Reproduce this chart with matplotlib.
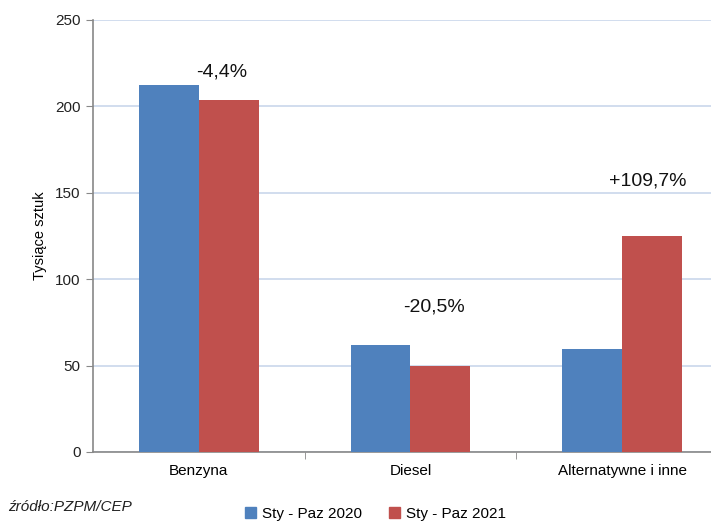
import matplotlib.pyplot as plt
import numpy as np
from matplotlib.patches import Patch

plt.rcParams['font.family'] = ['Liberation Sans', 'DejaVu Sans']

categories = ["Benzyna", "Diesel", "Alternatywne i inne"]
s2020 = [212.5, 62, 59.5]
s2021 = [203.5, 49.5, 125]
changes = ["-4,4%", "-20,5%", "+109,7%"]
series_names = ["Sty - Paz 2020", "Sty - Paz 2021"]
blue = "#4f81bd"
red = "#c0504d"

fig = plt.figure(figsize=(7.11, 5.23), dpi=100)
ax = fig.add_axes([0.1308, 0.1358, 0.893, 0.826])

x = np.arange(len(categories))
w = 0.283
ax.bar(x - w/2, s2020, w, color=blue, zorder=3)
ax.bar(x + w/2, s2021, w, color=red, zorder=3)

# percentage change labels above each group
label_x = [0.11, 1.11, 2.12]
label_y = [220, 84, 157]
for lx, txt, ly in zip(label_x, changes, label_y):
    ax.text(lx, ly, txt, ha="center", va="center", fontsize=14, color="#111111")

ax.set_xlim(-0.5, 2.5)
ax.set_ylim(0, 250)
ax.set_yticks(range(0, 251, 50))
ax.yaxis.grid(True, color="#c5d3ea", linewidth=1.1, zorder=0)
ax.set_axisbelow(True)

ax.set_xticks(x)
ax.set_xticklabels(categories, fontsize=11)
ax.tick_params(axis="x", length=0, pad=9)
ax.set_xticks([0.5, 1.5], minor=True)
ax.tick_params(axis="x", which="minor", length=5, color="#888888", direction="out")
ax.tick_params(axis="y", length=5, color="#888888", labelsize=11, pad=4, labelcolor="#222222")

for s in ["top", "right"]:
    ax.spines[s].set_visible(False)
for s in ["left", "bottom"]:
    ax.spines[s].set_color("#888888")
    ax.spines[s].set_linewidth(1.2)

ax.set_ylabel("Tysiące sztuk", fontsize=10.5, labelpad=6)

fig.text(0.012, 0.022, "źródło:PZPM/CEP", fontsize=11, style="italic", color="#222222")

handles = [Patch(color=blue), Patch(color=red)]
fig.legend(handles, series_names, loc="lower left", bbox_to_anchor=(0.325, -0.022),
           ncol=2, frameon=False, fontsize=11, handlelength=0.7, handleheight=0.7,
           handletextpad=0.4, columnspacing=1.8)

fig.savefig("out.png", dpi=100)
